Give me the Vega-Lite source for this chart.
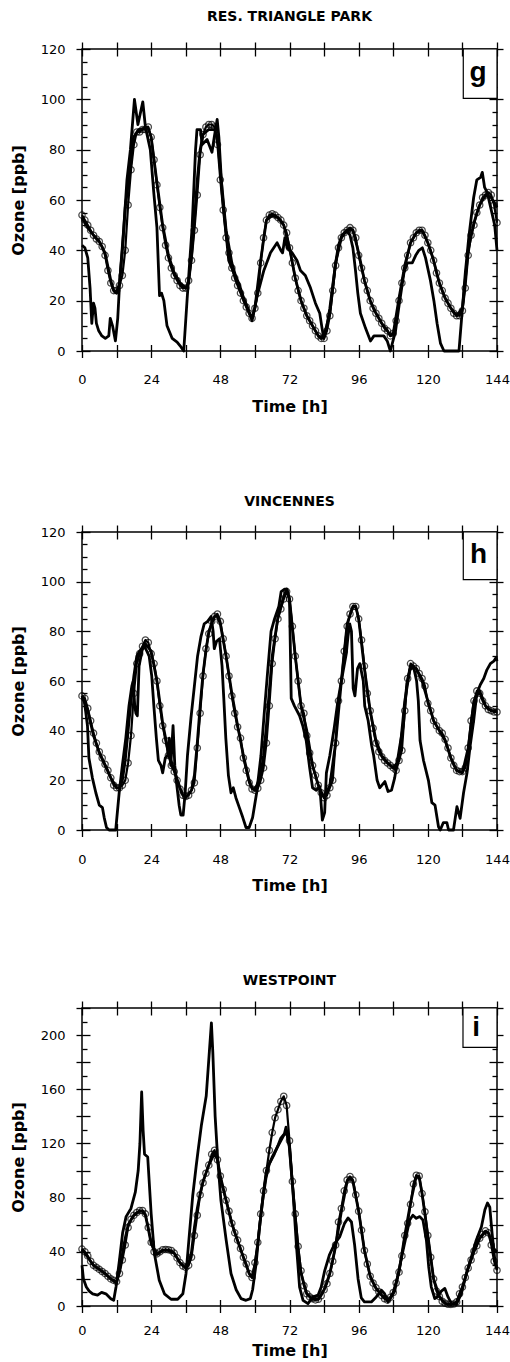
{
"$schema": "https://vega.github.io/schema/vega-lite/v6.json",
"padding": {"left": 9, "top": 9, "right": 0, "bottom": 0},
"spacing": 78,
"config": {
 "view": {"stroke": "black", "strokeWidth": 1.5},
 "font": "DejaVu Sans",
 "axis": {"grid": false, "domain": false, "tickColor": "black", "tickWidth": 1.3, "labelColor": "black", "titleColor": "black", "labelFont": "DejaVu Sans", "labelFontSize": 13, "titleFont": "DejaVu Sans", "titleFontSize": 16, "titleFontWeight": "bold", "labelFlush": false, "labelOverlap": false},
 "title": {"font": "DejaVu Sans", "fontSize": 14, "fontWeight": "bold", "color": "black"}
},
"datasets": {
 "gC": [{"t":0,"v":54},{"t":1,"v":52},{"t":2,"v":50},{"t":3,"v":48},{"t":4,"v":46},{"t":5,"v":44.5},{"t":6,"v":43.5},{"t":7,"v":41.5},{"t":8,"v":38},{"t":9,"v":32},{"t":10,"v":27},{"t":11,"v":24},{"t":12,"v":24},{"t":13,"v":26},{"t":14,"v":30},{"t":15,"v":40},{"t":16,"v":58},{"t":17,"v":72},{"t":18,"v":82},{"t":19,"v":87},{"t":20,"v":87},{"t":21,"v":88},{"t":22,"v":88},{"t":23,"v":89},{"t":24,"v":85},{"t":25,"v":76},{"t":26,"v":66},{"t":27,"v":57},{"t":28,"v":49},{"t":29,"v":42},{"t":30,"v":37},{"t":31,"v":33},{"t":32,"v":30},{"t":33,"v":28},{"t":34,"v":26},{"t":35,"v":25},{"t":36,"v":25},{"t":37,"v":28},{"t":38,"v":36},{"t":39,"v":48},{"t":40,"v":62},{"t":41,"v":78},{"t":42,"v":86},{"t":43,"v":89},{"t":44,"v":90},{"t":45,"v":90},{"t":46,"v":89},{"t":47,"v":82},{"t":48,"v":68},{"t":49,"v":56},{"t":50,"v":45},{"t":51,"v":39},{"t":52,"v":33},{"t":53,"v":29},{"t":54,"v":26},{"t":55,"v":23},{"t":56,"v":20},{"t":57,"v":17.5},{"t":58,"v":15},{"t":59,"v":13},{"t":60,"v":17},{"t":61,"v":23},{"t":62,"v":35},{"t":63,"v":45},{"t":64,"v":52},{"t":65,"v":54},{"t":66,"v":54.5},{"t":67,"v":54},{"t":68,"v":53},{"t":69,"v":52},{"t":70,"v":50},{"t":71,"v":47},{"t":72,"v":41},{"t":73,"v":35},{"t":74,"v":29},{"t":75,"v":24},{"t":76,"v":20},{"t":77,"v":17},{"t":78,"v":14},{"t":79,"v":12},{"t":80,"v":10},{"t":81,"v":8},{"t":82,"v":6},{"t":83,"v":5},{"t":84,"v":5},{"t":85,"v":8},{"t":86,"v":14},{"t":87,"v":24},{"t":88,"v":34},{"t":89,"v":41},{"t":90,"v":45},{"t":91,"v":47},{"t":92,"v":48},{"t":93,"v":49},{"t":94,"v":48},{"t":95,"v":45},{"t":96,"v":38},{"t":97,"v":33},{"t":98,"v":28},{"t":99,"v":24},{"t":100,"v":20},{"t":101,"v":17},{"t":102,"v":15},{"t":103,"v":13},{"t":104,"v":11},{"t":105,"v":9},{"t":106,"v":8},{"t":107,"v":6},{"t":108,"v":7},{"t":109,"v":12},{"t":110,"v":20},{"t":111,"v":27},{"t":112,"v":33},{"t":113,"v":38},{"t":114,"v":43},{"t":115,"v":45},{"t":116,"v":47},{"t":117,"v":48},{"t":118,"v":48},{"t":119,"v":46},{"t":120,"v":43},{"t":121,"v":40},{"t":122,"v":36},{"t":123,"v":31},{"t":124,"v":27},{"t":125,"v":24},{"t":126,"v":21},{"t":127,"v":19},{"t":128,"v":17},{"t":129,"v":15},{"t":130,"v":14},{"t":131,"v":14},{"t":132,"v":16},{"t":133,"v":25},{"t":134,"v":38},{"t":135,"v":46},{"t":136,"v":50},{"t":137,"v":55},{"t":138,"v":58},{"t":139,"v":61},{"t":140,"v":62},{"t":141,"v":63},{"t":142,"v":62},{"t":143,"v":58},{"t":144,"v":51}],
 "gS1": [{"t":0,"v":53},{"t":2,"v":49},{"t":4,"v":46},{"t":6,"v":43.5},{"t":8,"v":39},{"t":10,"v":28},{"t":11,"v":24},{"t":12,"v":23},{"t":13,"v":27},{"t":14,"v":40},{"t":15,"v":57},{"t":16.8,"v":73},{"t":17.9,"v":85},{"t":19.7,"v":88},{"t":21.4,"v":88.5},{"t":22.8,"v":89},{"t":24,"v":85},{"t":26,"v":67},{"t":28,"v":50},{"t":30,"v":38},{"t":32,"v":31},{"t":34,"v":27},{"t":36,"v":25},{"t":37,"v":27},{"t":38,"v":38},{"t":39,"v":52},{"t":40,"v":68},{"t":41,"v":80},{"t":42,"v":86},{"t":44,"v":88},{"t":46,"v":88},{"t":47,"v":85},{"t":48,"v":72},{"t":50,"v":48},{"t":52,"v":35},{"t":54,"v":27},{"t":56,"v":21},{"t":58,"v":15},{"t":59,"v":13},{"t":60,"v":17},{"t":62,"v":36},{"t":64,"v":52},{"t":66,"v":54},{"t":68,"v":53},{"t":70,"v":50},{"t":72,"v":41},{"t":74,"v":29},{"t":76,"v":20},{"t":78,"v":14},{"t":80,"v":10},{"t":82,"v":6},{"t":83,"v":5},{"t":84,"v":6},{"t":86,"v":15},{"t":88,"v":35},{"t":90,"v":45},{"t":92,"v":48},{"t":94,"v":48},{"t":96,"v":39},{"t":98,"v":28},{"t":100,"v":20},{"t":102,"v":15},{"t":104,"v":11},{"t":106,"v":8},{"t":107,"v":6},{"t":108,"v":7},{"t":110,"v":21},{"t":112,"v":34},{"t":114,"v":43},{"t":116,"v":47},{"t":118,"v":48},{"t":120,"v":43},{"t":122,"v":36},{"t":124,"v":27},{"t":126,"v":21},{"t":128,"v":17},{"t":130,"v":14},{"t":132,"v":17},{"t":134,"v":40},{"t":136,"v":51},{"t":138,"v":58},{"t":140,"v":62},{"t":142,"v":61},{"t":144,"v":57}],
 "gS2": [{"t":0,"v":42},{"t":1,"v":41},{"t":2,"v":37},{"t":2.8,"v":25},{"t":3.4,"v":11},{"t":4,"v":19},{"t":4.5,"v":17},{"t":5,"v":11},{"t":5.8,"v":8},{"t":6.9,"v":6},{"t":8.1,"v":5},{"t":9.3,"v":6},{"t":9.8,"v":13},{"t":10.6,"v":10},{"t":11.6,"v":4},{"t":12.4,"v":13},{"t":13.1,"v":28},{"t":14.5,"v":49},{"t":15.6,"v":68},{"t":16.8,"v":80},{"t":18.2,"v":100},{"t":19.4,"v":90},{"t":21.1,"v":99},{"t":22,"v":89},{"t":23.7,"v":80},{"t":24.9,"v":63},{"t":26,"v":49},{"t":26.9,"v":22},{"t":27.6,"v":23},{"t":28.4,"v":20},{"t":29.5,"v":10},{"t":31.3,"v":5},{"t":33,"v":3.5},{"t":34.4,"v":1.5},{"t":35.3,"v":0},{"t":36.5,"v":21},{"t":38.2,"v":49},{"t":39.4,"v":80},{"t":39.9,"v":88},{"t":41.1,"v":88},{"t":41.7,"v":82},{"t":43.4,"v":84},{"t":45.1,"v":79},{"t":45.9,"v":85},{"t":46.9,"v":92},{"t":47.5,"v":85},{"t":48.6,"v":63},{"t":49.8,"v":49},{"t":50.9,"v":36},{"t":52.7,"v":31},{"t":54.4,"v":27},{"t":56.1,"v":21},{"t":57.9,"v":16},{"t":59,"v":12},{"t":60.8,"v":22},{"t":63.1,"v":32},{"t":65.4,"v":39},{"t":67.7,"v":43},{"t":69,"v":40},{"t":69.6,"v":39},{"t":70.4,"v":45},{"t":71.2,"v":41},{"t":72.9,"v":39},{"t":74.6,"v":36},{"t":75.8,"v":32},{"t":77.5,"v":30},{"t":79.3,"v":25},{"t":81,"v":19},{"t":82.5,"v":15},{"t":83.3,"v":9},{"t":83.9,"v":5},{"t":85,"v":10},{"t":86,"v":17},{"t":87,"v":26},{"t":88,"v":35},{"t":89,"v":42},{"t":90.2,"v":46},{"t":91.9,"v":48},{"t":93,"v":46},{"t":94,"v":41},{"t":94.9,"v":32},{"t":95.7,"v":23},{"t":96.6,"v":15},{"t":98.4,"v":9},{"t":100.1,"v":4},{"t":101.3,"v":6},{"t":102.4,"v":6},{"t":104.7,"v":6},{"t":105.9,"v":4},{"t":107,"v":0},{"t":108.8,"v":8},{"t":110,"v":18},{"t":111.7,"v":31},{"t":112.9,"v":35},{"t":114.6,"v":35},{"t":115.8,"v":38},{"t":116.9,"v":40},{"t":118.1,"v":41},{"t":119.2,"v":37},{"t":120.9,"v":28},{"t":122.1,"v":20},{"t":123.2,"v":11},{"t":124.4,"v":3},{"t":125.6,"v":0},{"t":130.8,"v":0},{"t":133,"v":31},{"t":134.2,"v":45},{"t":135.9,"v":61},{"t":137,"v":68},{"t":138.3,"v":69},{"t":138.9,"v":71},{"t":139.7,"v":65},{"t":140.6,"v":63},{"t":141.8,"v":57},{"t":143.2,"v":50},{"t":144,"v":40}],
 "hC": [{"t":0,"v":54},{"t":1,"v":53},{"t":2,"v":49},{"t":3,"v":44},{"t":4,"v":39},{"t":5,"v":35},{"t":6,"v":31.5},{"t":7,"v":29},{"t":8,"v":26.5},{"t":9,"v":24},{"t":10,"v":21},{"t":11,"v":18},{"t":12,"v":17},{"t":13,"v":17},{"t":14,"v":18},{"t":15,"v":20},{"t":16,"v":27},{"t":17,"v":38},{"t":18,"v":55},{"t":19,"v":67},{"t":20,"v":71},{"t":21,"v":74},{"t":22,"v":76.5},{"t":23,"v":75.5},{"t":24,"v":71},{"t":25,"v":67},{"t":26,"v":60},{"t":27,"v":50},{"t":28,"v":42},{"t":29,"v":36},{"t":30,"v":30},{"t":31,"v":26},{"t":32,"v":23.5},{"t":33,"v":20},{"t":34,"v":16.5},{"t":35,"v":14},{"t":36,"v":13.5},{"t":37,"v":14},{"t":38,"v":16},{"t":39,"v":19},{"t":40,"v":33},{"t":41,"v":47},{"t":42,"v":62},{"t":43,"v":73},{"t":44,"v":79},{"t":45,"v":84},{"t":46,"v":86},{"t":47,"v":87},{"t":48,"v":84},{"t":49,"v":77},{"t":50,"v":70},{"t":51,"v":62},{"t":52,"v":54},{"t":53,"v":47},{"t":54,"v":41.5},{"t":55,"v":37},{"t":56,"v":29},{"t":57,"v":24},{"t":58,"v":19},{"t":59,"v":16.5},{"t":60,"v":16},{"t":61,"v":16.8},{"t":62,"v":20},{"t":63,"v":25},{"t":64,"v":35},{"t":65,"v":50},{"t":66,"v":67},{"t":67,"v":77},{"t":68,"v":85},{"t":69,"v":89},{"t":70,"v":93},{"t":71,"v":96},{"t":72,"v":93},{"t":73,"v":82},{"t":74,"v":70},{"t":75,"v":60},{"t":76,"v":50},{"t":77,"v":47},{"t":78,"v":38},{"t":79,"v":31},{"t":80,"v":26},{"t":81,"v":22},{"t":82,"v":18},{"t":83,"v":15},{"t":84,"v":13},{"t":85,"v":14},{"t":86,"v":17},{"t":87,"v":20},{"t":88,"v":35},{"t":89,"v":52},{"t":90,"v":60},{"t":91,"v":72},{"t":92,"v":82},{"t":93,"v":87},{"t":94,"v":90},{"t":95,"v":90},{"t":96,"v":85},{"t":97,"v":76.5},{"t":98,"v":66},{"t":99,"v":55},{"t":100,"v":48},{"t":101,"v":41},{"t":102,"v":35},{"t":103,"v":31.5},{"t":104,"v":29.5},{"t":105,"v":28},{"t":106,"v":27},{"t":107,"v":26},{"t":108,"v":25},{"t":109,"v":24},{"t":110,"v":28},{"t":111,"v":32},{"t":112,"v":48},{"t":113,"v":61},{"t":114,"v":67},{"t":115,"v":66},{"t":116,"v":65},{"t":117,"v":63},{"t":118,"v":61},{"t":119,"v":58},{"t":120,"v":51},{"t":121,"v":48},{"t":122,"v":44},{"t":123,"v":42},{"t":124,"v":40},{"t":125,"v":39},{"t":126,"v":36.5},{"t":127,"v":33},{"t":128,"v":29},{"t":129,"v":26},{"t":130,"v":24},{"t":131,"v":23.5},{"t":132,"v":23.5},{"t":133,"v":25},{"t":134,"v":33},{"t":135,"v":44},{"t":136,"v":52},{"t":137,"v":56},{"t":138,"v":55},{"t":139,"v":52},{"t":140,"v":50},{"t":141,"v":48.5},{"t":142,"v":48},{"t":143,"v":47.5},{"t":144,"v":47.5}],
 "hS1": [{"t":0,"v":54},{"t":2,"v":48},{"t":4,"v":38},{"t":6,"v":31},{"t":8,"v":26},{"t":10,"v":21},{"t":12,"v":17},{"t":13,"v":17},{"t":14,"v":20},{"t":15,"v":28},{"t":16,"v":40},{"t":17,"v":52},{"t":18,"v":62},{"t":19,"v":70},{"t":20,"v":72},{"t":22,"v":75},{"t":24,"v":72},{"t":26,"v":60},{"t":28,"v":43},{"t":30,"v":31},{"t":32,"v":24},{"t":34,"v":17},{"t":35,"v":14},{"t":36,"v":13},{"t":38,"v":16},{"t":39,"v":22},{"t":40,"v":35},{"t":41,"v":50},{"t":42,"v":63},{"t":43,"v":72},{"t":44,"v":80},{"t":46,"v":86},{"t":47,"v":86},{"t":48,"v":83},{"t":50,"v":70},{"t":52,"v":55},{"t":54,"v":42},{"t":56,"v":30},{"t":58,"v":20},{"t":59,"v":17},{"t":60,"v":16},{"t":62,"v":22},{"t":63,"v":30},{"t":64,"v":42},{"t":65,"v":56},{"t":66,"v":70},{"t":68,"v":86},{"t":70,"v":94},{"t":71,"v":97},{"t":72,"v":93},{"t":74,"v":70},{"t":76,"v":50},{"t":78,"v":40},{"t":80,"v":26},{"t":82,"v":18},{"t":84,"v":13},{"t":86,"v":18},{"t":88,"v":35},{"t":90,"v":60},{"t":92,"v":83},{"t":94,"v":90},{"t":95,"v":90},{"t":96,"v":85},{"t":98,"v":65},{"t":100,"v":48},{"t":102,"v":36},{"t":104,"v":30},{"t":106,"v":27},{"t":108,"v":25},{"t":110,"v":28},{"t":112,"v":52},{"t":114,"v":66},{"t":116,"v":65},{"t":118,"v":60},{"t":120,"v":52},{"t":122,"v":44},{"t":124,"v":40},{"t":126,"v":36},{"t":128,"v":29},{"t":130,"v":24},{"t":132,"v":23},{"t":134,"v":33},{"t":136,"v":52},{"t":138,"v":56},{"t":140,"v":50},{"t":142,"v":48},{"t":144,"v":48}],
 "hS2": [{"t":0,"v":54},{"t":0.7,"v":53},{"t":1.9,"v":42},{"t":2.4,"v":29},{"t":3.6,"v":21},{"t":4.8,"v":15},{"t":6,"v":10},{"t":7.1,"v":9},{"t":7.7,"v":5},{"t":8.5,"v":1},{"t":9.4,"v":0},{"t":11.7,"v":0},{"t":12.9,"v":15},{"t":14,"v":26},{"t":15.2,"v":37},{"t":16.3,"v":50},{"t":17.3,"v":58},{"t":17.8,"v":60},{"t":18.3,"v":50},{"t":18.7,"v":47},{"t":19.2,"v":46},{"t":19.8,"v":66},{"t":20.8,"v":72},{"t":21.6,"v":75},{"t":22.1,"v":73},{"t":23.3,"v":70},{"t":24.2,"v":62},{"t":25,"v":49},{"t":25.8,"v":37},{"t":26.5,"v":28},{"t":27.4,"v":26},{"t":28,"v":23},{"t":28.9,"v":29},{"t":29.7,"v":30},{"t":30.3,"v":37},{"t":30.8,"v":26},{"t":31.6,"v":42},{"t":32.2,"v":26},{"t":32.8,"v":19},{"t":33.7,"v":10},{"t":34.3,"v":6},{"t":35.1,"v":6},{"t":35.8,"v":15},{"t":36.6,"v":30},{"t":37.8,"v":45},{"t":39,"v":58},{"t":40.1,"v":70},{"t":41.3,"v":78},{"t":42.4,"v":83},{"t":43.6,"v":84},{"t":44.8,"v":86},{"t":45.5,"v":80},{"t":45.9,"v":73},{"t":46.7,"v":76},{"t":47.7,"v":77},{"t":48.6,"v":66},{"t":49.2,"v":53},{"t":49.9,"v":37},{"t":50.8,"v":22},{"t":51.7,"v":15},{"t":52.5,"v":17},{"t":53.4,"v":13},{"t":54.6,"v":9},{"t":55.8,"v":5},{"t":56.9,"v":1},{"t":58,"v":1},{"t":59.2,"v":5},{"t":60.6,"v":15},{"t":62.1,"v":30},{"t":63.3,"v":48},{"t":64.5,"v":65},{"t":65.6,"v":80},{"t":66.8,"v":85},{"t":68.3,"v":90},{"t":69.1,"v":96},{"t":70.3,"v":97},{"t":71.1,"v":97},{"t":72,"v":93},{"t":72.6,"v":53},{"t":73.7,"v":50},{"t":75.5,"v":46},{"t":76.6,"v":42},{"t":77.8,"v":36},{"t":79,"v":25},{"t":80,"v":17},{"t":81.3,"v":16},{"t":82.5,"v":17.5},{"t":83.4,"v":4},{"t":84.2,"v":7},{"t":84.8,"v":23},{"t":86,"v":30},{"t":87.5,"v":41},{"t":88.8,"v":52},{"t":90,"v":60},{"t":91.7,"v":71},{"t":92.3,"v":78},{"t":92.9,"v":83},{"t":93.5,"v":80},{"t":94.1,"v":57},{"t":94.7,"v":54},{"t":95.6,"v":65},{"t":96.4,"v":67},{"t":97.6,"v":60},{"t":98.1,"v":50},{"t":99.3,"v":44},{"t":100.5,"v":34},{"t":101.2,"v":30},{"t":102.4,"v":20},{"t":103.3,"v":17},{"t":105.1,"v":19.5},{"t":106.2,"v":15.5},{"t":107.4,"v":16},{"t":108.5,"v":21},{"t":110.3,"v":34},{"t":111.5,"v":42},{"t":112.7,"v":59},{"t":113.8,"v":64.5},{"t":115,"v":66},{"t":116.1,"v":60},{"t":116.7,"v":52},{"t":117.3,"v":36},{"t":118.5,"v":28},{"t":120.2,"v":20},{"t":121.4,"v":11},{"t":122.5,"v":10},{"t":123.7,"v":1.3},{"t":124.3,"v":0},{"t":125.4,"v":3},{"t":126.6,"v":3},{"t":127.2,"v":0},{"t":128.9,"v":0},{"t":130.1,"v":9.4},{"t":131.2,"v":4.7},{"t":132.4,"v":15},{"t":133.6,"v":23},{"t":134.7,"v":34},{"t":135.9,"v":44},{"t":137,"v":55},{"t":138.2,"v":58.5},{"t":139.4,"v":61},{"t":140.5,"v":64.5},{"t":141.7,"v":67},{"t":142.9,"v":68},{"t":143.7,"v":69.5},{"t":144,"v":68}],
 "iC": [{"t":0,"v":42},{"t":1,"v":40},{"t":2,"v":37},{"t":3,"v":33},{"t":4,"v":30},{"t":5,"v":28.5},{"t":6,"v":27},{"t":7,"v":25.5},{"t":8,"v":24},{"t":9,"v":22},{"t":10,"v":20},{"t":11,"v":19},{"t":12,"v":18},{"t":13,"v":24},{"t":14,"v":34},{"t":15,"v":45},{"t":16,"v":58},{"t":17,"v":64},{"t":18,"v":67},{"t":19,"v":69},{"t":20,"v":70.5},{"t":21,"v":70.5},{"t":22,"v":68},{"t":23,"v":58},{"t":24,"v":47},{"t":25,"v":40},{"t":26,"v":38.5},{"t":27,"v":40},{"t":28,"v":41.5},{"t":29,"v":41.7},{"t":30,"v":41.5},{"t":31,"v":41},{"t":32,"v":39},{"t":33,"v":35.5},{"t":34,"v":32},{"t":35,"v":29.5},{"t":36,"v":28.5},{"t":37,"v":30},{"t":38,"v":36},{"t":39,"v":52},{"t":40,"v":67},{"t":41,"v":82},{"t":42,"v":91},{"t":43,"v":98},{"t":44,"v":104},{"t":45,"v":112},{"t":46,"v":115},{"t":47,"v":108},{"t":48,"v":96},{"t":49,"v":86},{"t":50,"v":78},{"t":51,"v":70},{"t":52,"v":61},{"t":53,"v":54},{"t":54,"v":48.6},{"t":55,"v":42.5},{"t":56,"v":36},{"t":57,"v":31},{"t":58,"v":24},{"t":59,"v":21},{"t":60,"v":32},{"t":61,"v":47},{"t":62,"v":68},{"t":63,"v":85},{"t":64,"v":100},{"t":65,"v":115},{"t":66,"v":128},{"t":67,"v":139},{"t":68,"v":145},{"t":69,"v":151},{"t":70,"v":154.8},{"t":71,"v":148},{"t":72,"v":122},{"t":73,"v":92},{"t":74,"v":68},{"t":75,"v":44},{"t":76,"v":26},{"t":77,"v":15},{"t":78,"v":9},{"t":79,"v":6.7},{"t":80,"v":5.4},{"t":81,"v":4.5},{"t":82,"v":5},{"t":83,"v":7.5},{"t":84,"v":12},{"t":85,"v":16.5},{"t":86,"v":24},{"t":87,"v":33},{"t":88,"v":45},{"t":89,"v":62},{"t":90,"v":72},{"t":91,"v":85},{"t":92,"v":93},{"t":93,"v":95.6},{"t":94,"v":93},{"t":95,"v":82},{"t":96,"v":70},{"t":97,"v":56},{"t":98,"v":41},{"t":99,"v":31},{"t":100,"v":22},{"t":101,"v":17},{"t":102,"v":13.5},{"t":103,"v":10.5},{"t":104,"v":7.7},{"t":105,"v":5.4},{"t":106,"v":4.3},{"t":107,"v":6.5},{"t":108,"v":10},{"t":109,"v":17},{"t":110,"v":25},{"t":111,"v":37},{"t":112,"v":52},{"t":113,"v":61},{"t":114,"v":75},{"t":115,"v":90},{"t":116,"v":96.5},{"t":117,"v":96},{"t":118,"v":83},{"t":119,"v":69.6},{"t":120,"v":52},{"t":121,"v":36},{"t":122,"v":20},{"t":123,"v":11},{"t":124,"v":7},{"t":125,"v":3.5},{"t":126,"v":2},{"t":127,"v":1.3},{"t":128,"v":1.2},{"t":129,"v":1.5},{"t":130,"v":3},{"t":131,"v":9},{"t":132,"v":14},{"t":133,"v":21},{"t":134,"v":28},{"t":135,"v":34},{"t":136,"v":40.5},{"t":137,"v":44.5},{"t":138,"v":50},{"t":139,"v":53},{"t":140,"v":55.5},{"t":141,"v":54},{"t":142,"v":45},{"t":143,"v":33},{"t":144,"v":26.4}],
 "iS1": [{"t":0,"v":42},{"t":2,"v":36},{"t":4,"v":30},{"t":6,"v":27},{"t":8,"v":24},{"t":10,"v":20},{"t":12,"v":17},{"t":13,"v":26},{"t":14,"v":38},{"t":15,"v":50},{"t":16,"v":60},{"t":18,"v":67},{"t":20,"v":70},{"t":21,"v":70},{"t":22,"v":67},{"t":23,"v":57},{"t":24,"v":46},{"t":26,"v":38},{"t":28,"v":41},{"t":30,"v":41},{"t":32,"v":39},{"t":34,"v":32},{"t":36,"v":28},{"t":37,"v":31},{"t":38,"v":40},{"t":39,"v":58},{"t":40,"v":72},{"t":41,"v":83},{"t":42,"v":92},{"t":44,"v":104},{"t":46,"v":113},{"t":47,"v":108},{"t":48,"v":96},{"t":50,"v":78},{"t":52,"v":61},{"t":54,"v":48},{"t":56,"v":36},{"t":58,"v":24},{"t":59,"v":21},{"t":60,"v":30},{"t":61,"v":46},{"t":62,"v":66},{"t":63,"v":84},{"t":64,"v":100},{"t":66,"v":110},{"t":68,"v":118},{"t":70,"v":126},{"t":71,"v":128},{"t":72,"v":118},{"t":73,"v":90},{"t":74,"v":66},{"t":75,"v":42},{"t":76,"v":24},{"t":78,"v":9},{"t":80,"v":5},{"t":82,"v":5},{"t":84,"v":12},{"t":86,"v":24},{"t":88,"v":44},{"t":90,"v":70},{"t":92,"v":92},{"t":93,"v":95},{"t":94,"v":92},{"t":96,"v":70},{"t":98,"v":41},{"t":100,"v":22},{"t":102,"v":13},{"t":104,"v":8},{"t":106,"v":4},{"t":107,"v":6},{"t":108,"v":10},{"t":110,"v":25},{"t":112,"v":52},{"t":114,"v":76},{"t":116,"v":96},{"t":117,"v":95},{"t":118,"v":83},{"t":120,"v":52},{"t":122,"v":20},{"t":124,"v":7},{"t":126,"v":2},{"t":128,"v":1},{"t":130,"v":3},{"t":132,"v":14},{"t":134,"v":28},{"t":136,"v":40},{"t":138,"v":50},{"t":140,"v":55},{"t":141,"v":54},{"t":142,"v":48},{"t":143,"v":42},{"t":144,"v":40}],
 "iS2": [{"t":0,"v":30},{"t":0.5,"v":20},{"t":1.5,"v":14},{"t":2.5,"v":11},{"t":3.7,"v":9},{"t":5.4,"v":8},{"t":6.8,"v":10},{"t":8.3,"v":9},{"t":10,"v":5.4},{"t":11,"v":4.2},{"t":11.8,"v":14},{"t":13,"v":34},{"t":14.1,"v":54},{"t":15.3,"v":66},{"t":17,"v":72},{"t":18.5,"v":84},{"t":19.5,"v":100},{"t":20.1,"v":120},{"t":20.7,"v":158},{"t":21.2,"v":130},{"t":21.7,"v":112},{"t":22.8,"v":110},{"t":24,"v":68},{"t":25.1,"v":39},{"t":26.8,"v":19},{"t":28.6,"v":9},{"t":30.9,"v":5},{"t":33.2,"v":5},{"t":35,"v":9},{"t":36.1,"v":24},{"t":37.3,"v":54},{"t":38.4,"v":81},{"t":39.6,"v":103},{"t":40.3,"v":115},{"t":41.4,"v":133},{"t":43.1,"v":155},{"t":44.1,"v":185},{"t":44.9,"v":209},{"t":45.4,"v":187},{"t":46.2,"v":140},{"t":47.1,"v":108},{"t":48.2,"v":78},{"t":50,"v":49},{"t":51.7,"v":24},{"t":53.5,"v":12},{"t":55.2,"v":5.4},{"t":56.9,"v":4.2},{"t":58.4,"v":5.4},{"t":59.2,"v":12},{"t":60.4,"v":31},{"t":61.5,"v":56},{"t":62.7,"v":78},{"t":63.8,"v":94},{"t":65,"v":105},{"t":66.7,"v":112},{"t":67.9,"v":118},{"t":69,"v":124},{"t":70.2,"v":127},{"t":70.8,"v":132},{"t":71.9,"v":118},{"t":73.1,"v":88},{"t":74.4,"v":45},{"t":75.5,"v":14},{"t":76.7,"v":4.2},{"t":78.4,"v":1.7},{"t":80.2,"v":6.7},{"t":81.9,"v":8},{"t":83,"v":14},{"t":84.2,"v":26},{"t":85.9,"v":38},{"t":87.7,"v":46},{"t":89.4,"v":51},{"t":91.1,"v":61},{"t":92.3,"v":65},{"t":93.5,"v":62},{"t":94.6,"v":45},{"t":95.8,"v":20},{"t":96.9,"v":6},{"t":98,"v":3},{"t":100.4,"v":3},{"t":102.1,"v":6.7},{"t":103.9,"v":11.6},{"t":105,"v":9},{"t":106.2,"v":3},{"t":107.4,"v":7},{"t":108.5,"v":11},{"t":110.2,"v":29},{"t":111.9,"v":46},{"t":113.7,"v":63.5},{"t":114.8,"v":67},{"t":116,"v":64.7},{"t":117.2,"v":66},{"t":118.3,"v":63.5},{"t":119.5,"v":48.6},{"t":120.3,"v":29},{"t":121.2,"v":14},{"t":122.4,"v":5.4},{"t":123.5,"v":7},{"t":124.7,"v":11},{"t":125.9,"v":13},{"t":127,"v":6.7},{"t":128.2,"v":1.7},{"t":129.9,"v":1.2},{"t":131.6,"v":9},{"t":133.4,"v":24},{"t":135.1,"v":36},{"t":136.8,"v":48.6},{"t":138.6,"v":58.5},{"t":139.8,"v":71},{"t":140.7,"v":76},{"t":141.5,"v":73},{"t":142.3,"v":53.6},{"t":143.2,"v":35},{"t":144,"v":27}],
 "gBox": [{"x1":132.3,"x2":144,"y1":100.4,"y2":120,"label":"g","tx":137.4,"ty":107.2}],
 "hBox": [{"x1":132.3,"x2":144,"y1":100.8,"y2":120,"label":"h","tx":137.6,"ty":107.5}],
 "iBox": [{"x1":132.2,"x2":144,"y1":191,"y2":220,"label":"i","tx":136.8,"ty":199}]
},
"vconcat": [
 {
  "title": {"text": "RES. TRIANGLE PARK", "anchor": "middle", "frame": "group", "offset": 17},
  "width": 415, "height": 302,
  "resolve": {"axis": {"x": "independent", "y": "independent"}},
  "layer": [
   {"data": {"name": "gC"}, "mark": {"type": "line", "color": "black", "strokeWidth": 2.2, "strokeJoin": "round"},
    "encoding": {
     "x": {"field": "t", "type": "quantitative", "scale": {"domain": [0, 144], "nice": false, "zero": false}, "axis": {"orient": "bottom", "values": [0,12,24,36,48,60,72,84,96,108,120,132,144], "labelExpr": "datum.value % 24 === 0 ? datum.label : ''", "tickSize": 6.5, "labelPadding": 16, "title": "Time [h]", "titlePadding": 12}},
     "y": {"field": "v", "type": "quantitative", "scale": {"domain": [0, 120], "nice": false}, "axis": {"orient": "left", "values": [0,20,40,60,80,100,120], "tickSize": 6, "labelPadding": 11, "title": "Ozone [ppb]", "titlePadding": 14}}}},
   {"data": {"name": "gS2"}, "mark": {"type": "line", "color": "black", "strokeWidth": 2.8, "strokeJoin": "round"},
    "encoding": {
     "x": {"field": "t", "type": "quantitative", "axis": {"orient": "bottom", "values": [0,12,24,36,48,60,72,84,96,108,120,132,144], "tickSize": -6.5, "labels": false, "title": null}},
     "y": {"field": "v", "type": "quantitative", "axis": {"orient": "left", "values": [0,20,40,60,80,100,120], "tickSize": -8, "labels": false, "title": null}}}},
   {"data": {"name": "gS1"}, "mark": {"type": "line", "color": "black", "strokeWidth": 2.8, "strokeJoin": "round"},
    "encoding": {
     "x": {"field": "t", "type": "quantitative", "axis": {"orient": "top", "values": [0,12,24,36,48,60,72,84,96,108,120,132,144], "tickSize": 7, "labels": false, "title": null}},
     "y": {"field": "v", "type": "quantitative", "axis": {"orient": "left", "values": [5,10,15,25,30,35,45,50,55,65,70,75,85,90,95,105,110,115], "tickSize": -5, "labels": false, "title": null}}}},
   {"data": {"name": "gC"}, "mark": {"type": "point", "shape": "circle", "filled": false, "size": 40, "color": "black", "strokeWidth": 1.3},
    "encoding": {
     "x": {"field": "t", "type": "quantitative", "axis": {"orient": "top", "values": [0,12,24,36,48,60,72,84,96,108,120,132,144], "tickSize": -7, "labels": false, "title": null}},
     "y": {"field": "v", "type": "quantitative", "axis": {"orient": "right", "values": [0,20,40,60,80,100,120], "tickSize": 6, "labels": false, "title": null}}}},
   {"data": {"name": "gBox"}, "mark": {"type": "rect", "fill": "white", "stroke": "black", "strokeWidth": 1.2},
    "encoding": {
     "x": {"field": "x1", "type": "quantitative", "axis": null}, "x2": {"field": "x2"},
     "y": {"field": "y1", "type": "quantitative", "axis": {"orient": "right", "values": [0,20,40,60,80,100,120], "tickSize": -8, "labels": false, "title": null}}, "y2": {"field": "y2"}}},
   {"data": {"name": "gBox"}, "mark": {"type": "text", "font": "Liberation Sans", "fontWeight": "bold", "fontSize": 28, "align": "center", "baseline": "alphabetic", "color": "black"},
    "encoding": {
     "x": {"field": "tx", "type": "quantitative", "axis": null},
     "y": {"field": "ty", "type": "quantitative", "axis": {"orient": "right", "values": [5,10,15,25,30,35,45,50,55,65,70,75,85,90,95,105,110,115], "tickSize": -5, "labels": false, "title": null}},
     "text": {"field": "label"}}}
  ]
 },
 {
  "title": {"text": "VINCENNES", "anchor": "middle", "frame": "group", "offset": 15},
  "width": 415, "height": 298,
  "resolve": {"axis": {"x": "independent", "y": "independent"}},
  "layer": [
   {"data": {"name": "hC"}, "mark": {"type": "line", "color": "black", "strokeWidth": 2.2, "strokeJoin": "round"},
    "encoding": {
     "x": {"field": "t", "type": "quantitative", "scale": {"domain": [0, 144], "nice": false, "zero": false}, "axis": {"orient": "bottom", "values": [0,12,24,36,48,60,72,84,96,108,120,132,144], "labelExpr": "datum.value % 24 === 0 ? datum.label : ''", "tickSize": 6.5, "labelPadding": 17, "title": "Time [h]", "titlePadding": 11}},
     "y": {"field": "v", "type": "quantitative", "scale": {"domain": [0, 120], "nice": false}, "axis": {"orient": "left", "values": [0,20,40,60,80,100,120], "tickSize": 6, "labelPadding": 11, "title": "Ozone [ppb]", "titlePadding": 14}}}},
   {"data": {"name": "hS2"}, "mark": {"type": "line", "color": "black", "strokeWidth": 2.8, "strokeJoin": "round"},
    "encoding": {
     "x": {"field": "t", "type": "quantitative", "axis": {"orient": "bottom", "values": [0,12,24,36,48,60,72,84,96,108,120,132,144], "tickSize": -6.5, "labels": false, "title": null}},
     "y": {"field": "v", "type": "quantitative", "axis": {"orient": "left", "values": [0,20,40,60,80,100,120], "tickSize": -8, "labels": false, "title": null}}}},
   {"data": {"name": "hS1"}, "mark": {"type": "line", "color": "black", "strokeWidth": 2.8, "strokeJoin": "round"},
    "encoding": {
     "x": {"field": "t", "type": "quantitative", "axis": {"orient": "top", "values": [0,12,24,36,48,60,72,84,96,108,120,132,144], "tickSize": 7, "labels": false, "title": null}},
     "y": {"field": "v", "type": "quantitative", "axis": {"orient": "left", "values": [5,10,15,25,30,35,45,50,55,65,70,75,85,90,95,105,110,115], "tickSize": -5, "labels": false, "title": null}}}},
   {"data": {"name": "hC"}, "mark": {"type": "point", "shape": "circle", "filled": false, "size": 40, "color": "black", "strokeWidth": 1.3},
    "encoding": {
     "x": {"field": "t", "type": "quantitative", "axis": {"orient": "top", "values": [0,12,24,36,48,60,72,84,96,108,120,132,144], "tickSize": -7, "labels": false, "title": null}},
     "y": {"field": "v", "type": "quantitative", "axis": {"orient": "right", "values": [0,20,40,60,80,100,120], "tickSize": 6, "labels": false, "title": null}}}},
   {"data": {"name": "hBox"}, "mark": {"type": "rect", "fill": "white", "stroke": "black", "strokeWidth": 1.2},
    "encoding": {
     "x": {"field": "x1", "type": "quantitative", "axis": null}, "x2": {"field": "x2"},
     "y": {"field": "y1", "type": "quantitative", "axis": {"orient": "right", "values": [0,20,40,60,80,100,120], "tickSize": -8, "labels": false, "title": null}}, "y2": {"field": "y2"}}},
   {"data": {"name": "hBox"}, "mark": {"type": "text", "font": "Liberation Sans", "fontWeight": "bold", "fontSize": 28, "align": "center", "baseline": "alphabetic", "color": "black"},
    "encoding": {
     "x": {"field": "tx", "type": "quantitative", "axis": null},
     "y": {"field": "ty", "type": "quantitative", "axis": {"orient": "right", "values": [5,10,15,25,30,35,45,50,55,65,70,75,85,90,95,105,110,115], "tickSize": -5, "labels": false, "title": null}},
     "text": {"field": "label"}}}
  ]
 },
 {
  "title": {"text": "WESTPOINT", "anchor": "middle", "frame": "group", "offset": 12},
  "width": 415, "height": 298,
  "resolve": {"axis": {"x": "independent", "y": "independent"}},
  "layer": [
   {"data": {"name": "iC"}, "mark": {"type": "line", "color": "black", "strokeWidth": 2.2, "strokeJoin": "round"},
    "encoding": {
     "x": {"field": "t", "type": "quantitative", "scale": {"domain": [0, 144], "nice": false, "zero": false}, "axis": {"orient": "bottom", "values": [0,12,24,36,48,60,72,84,96,108,120,132,144], "labelExpr": "datum.value % 24 === 0 ? datum.label : ''", "tickSize": 6.5, "labelPadding": 12, "title": "Time [h]", "titlePadding": 5}},
     "y": {"field": "v", "type": "quantitative", "scale": {"domain": [0, 220], "nice": false}, "axis": {"orient": "left", "values": [0,20,40,60,80,100,120,140,160,180,200,220], "labelExpr": "datum.value % 40 === 0 ? datum.label : ''", "tickSize": 6, "labelPadding": 11, "title": "Ozone [ppb]", "titlePadding": 14}}}},
   {"data": {"name": "iS2"}, "mark": {"type": "line", "color": "black", "strokeWidth": 2.8, "strokeJoin": "round"},
    "encoding": {
     "x": {"field": "t", "type": "quantitative", "axis": {"orient": "bottom", "values": [0,12,24,36,48,60,72,84,96,108,120,132,144], "tickSize": -6.5, "labels": false, "title": null}},
     "y": {"field": "v", "type": "quantitative", "axis": {"orient": "left", "values": [0,20,40,60,80,100,120,140,160,180,200,220], "tickSize": -8, "labels": false, "title": null}}}},
   {"data": {"name": "iS1"}, "mark": {"type": "line", "color": "black", "strokeWidth": 2.8, "strokeJoin": "round"},
    "encoding": {
     "x": {"field": "t", "type": "quantitative", "axis": {"orient": "top", "values": [0,12,24,36,48,60,72,84,96,108,120,132,144], "tickSize": 7, "labels": false, "title": null}},
     "y": {"field": "v", "type": "quantitative", "axis": {"orient": "left", "values": [10,30,50,70,90,110,130,150,170,190,210], "tickSize": -5, "labels": false, "title": null}}}},
   {"data": {"name": "iC"}, "mark": {"type": "point", "shape": "circle", "filled": false, "size": 40, "color": "black", "strokeWidth": 1.3},
    "encoding": {
     "x": {"field": "t", "type": "quantitative", "axis": {"orient": "top", "values": [0,12,24,36,48,60,72,84,96,108,120,132,144], "tickSize": -7, "labels": false, "title": null}},
     "y": {"field": "v", "type": "quantitative", "axis": {"orient": "right", "values": [0,20,40,60,80,100,120,140,160,180,200,220], "tickSize": 6, "labels": false, "title": null}}}},
   {"data": {"name": "iBox"}, "mark": {"type": "rect", "fill": "white", "stroke": "black", "strokeWidth": 1.2},
    "encoding": {
     "x": {"field": "x1", "type": "quantitative", "axis": null}, "x2": {"field": "x2"},
     "y": {"field": "y1", "type": "quantitative", "axis": {"orient": "right", "values": [0,20,40,60,80,100,120,140,160,180,200,220], "tickSize": -8, "labels": false, "title": null}}, "y2": {"field": "y2"}}},
   {"data": {"name": "iBox"}, "mark": {"type": "text", "font": "Liberation Sans", "fontWeight": "bold", "fontSize": 28, "align": "center", "baseline": "alphabetic", "color": "black"},
    "encoding": {
     "x": {"field": "tx", "type": "quantitative", "axis": null},
     "y": {"field": "ty", "type": "quantitative", "axis": {"orient": "right", "values": [10,30,50,70,90,110,130,150,170,190,210], "tickSize": -5, "labels": false, "title": null}},
     "text": {"field": "label"}}}
  ]
 }
]
}
